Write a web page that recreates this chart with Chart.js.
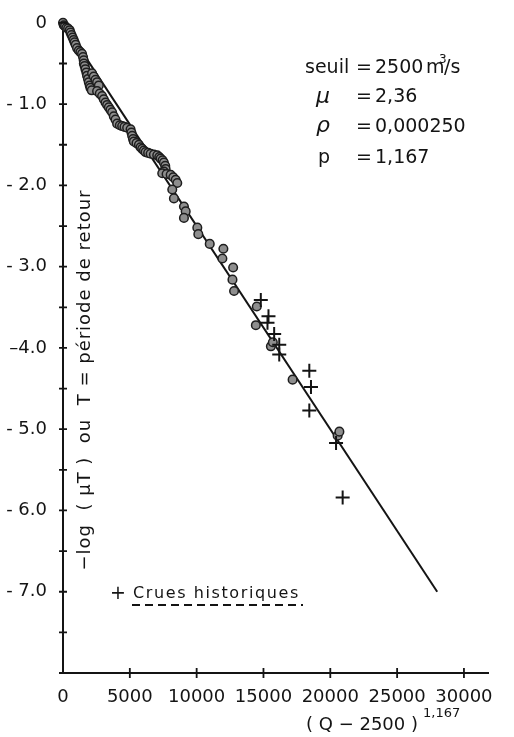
<!DOCTYPE html>
<html>
<head>
<meta charset="utf-8">
<script src="https://cdn.jsdelivr.net/npm/chart.js@4"></script>
<style>
  html, body { margin: 0; padding: 0; background: #fff; }
  #chart { display: block; }
</style>
</head>
<body>
<canvas id="chart" width="514" height="737"></canvas>
<script>
// axis ticks
const X_TICKS = [0, 5000, 10000, 15000, 20000, 25000, 30000];
const X_LABELS = ['0', '5000', '10000', '15000', '20000', '25000', '30000'];
const Y_TICKS = [0, -0.5, -1, -1.5, -2, -2.5, -3, -3.5, -4, -4.5, -5, -5.5, -6, -6.5, -7, -7.5, -8];
const Y_LABELS = ['0', '- 1.0', '- 2.0', '- 3.0', '–4.0', '- 5.0', '- 6.0', '- 7.0', ''];

// fitted law: -log(mu T) = -rho (Q - 2500)^p
const FIT_X = [0, 28000];
const FIT_Y = [0, -7.0];

// observed floods above the threshold (dense band at the top, scattered below)
const OBS_X = [0, 60, 150, 250, 380, 500, 560, 640, 720, 800, 870, 950, 1050, 1180, 1300, 1425,
  1500, 1550, 1560, 1620, 1680, 1750, 1800, 1870, 1930, 2000, 2055, 2150, 2175, 2300, 2430,
  2550, 2680, 2550, 2750, 2925, 3050, 3180, 3300, 3430, 3550, 3675, 3800, 3930, 4050, 4250,
  4425, 4600, 4800, 5055, 5120, 5175, 5240, 5300, 5500, 5680, 5800, 5925, 6050, 6180, 6370,
  6555, 6800, 7050, 7200, 7305, 7450, 7550, 7650, 7680, 7550, 7425, 7750, 8055, 8250, 8430, 8550,
  8175, 8300, 9050, 9180, 9050, 10050, 10125, 10980, 12000, 11925, 12730, 12680, 12800,
  14500, 14430, 15555, 15700, 17180, 20550, 20680];
const OBS_Y = [0, -0.03, -0.04, -0.06, -0.07, -0.09, -0.12, -0.15, -0.18, -0.21, -0.24, -0.27, -0.31, -0.34, -0.36, -0.38,
  -0.42, -0.46, -0.50, -0.53, -0.57, -0.61, -0.65, -0.69, -0.73, -0.77, -0.80, -0.83, -0.62, -0.66, -0.70,
  -0.73, -0.77, -0.84, -0.87, -0.90, -0.94, -0.98, -1.01, -1.04, -1.07, -1.10, -1.15, -1.19, -1.24, -1.26,
  -1.27, -1.28, -1.29, -1.31, -1.35, -1.39, -1.43, -1.46, -1.48, -1.50, -1.53, -1.55, -1.57, -1.59, -1.60,
  -1.61, -1.62, -1.63, -1.65, -1.67, -1.69, -1.72, -1.76, -1.80, -1.83, -1.85, -1.86, -1.87, -1.90, -1.93, -1.97,
  -2.05, -2.16, -2.26, -2.32, -2.40, -2.52, -2.60, -2.72, -2.78, -2.90, -3.01, -3.16, -3.30,
  -3.49, -3.72, -3.98, -3.93, -4.39, -5.08, -5.03];

// historical floods
const HIST_X = [14800, 15375, 15300, 15800, 16180, 16180, 18430, 18555, 18430, 20430, 20925];
const HIST_Y = [-3.41, -3.61, -3.69, -3.83, -3.96, -4.08, -4.28, -4.48, -4.77, -5.17, -5.84];

const INK = '#141414';
const FONT = '"DejaVu Sans", sans-serif';

function toPoints(xs, ys) {
  return xs.map((x, i) => ({ x: x, y: ys[i] }));
}

// tick marks crossing both axes
const crossTicks = {
  id: 'crossTicks',
  afterDraw(chart) {
    const ctx = chart.ctx;
    const xs = chart.scales.x, ys = chart.scales.y;
    const ax = xs.getPixelForValue(0);
    const ay = ys.getPixelForValue(-8);
    ctx.save();
    ctx.strokeStyle = INK;
    ctx.lineWidth = 1.8;
    ctx.beginPath();
    X_TICKS.forEach(v => {
      if (v === 0) return;
      const px = xs.getPixelForValue(v);
      ctx.moveTo(px, ay - 5);
      ctx.lineTo(px, ay + 5);
    });
    Y_TICKS.forEach(v => {
      if (v === -8) return;
      const py = ys.getPixelForValue(v);
      ctx.moveTo(ax - 4, py);
      ctx.lineTo(ax + 4, py);
    });
    // small overhang at the origin
    ctx.moveTo(ax - 4, ay);
    ctx.lineTo(ax, ay);
    ctx.stroke();
    ctx.restore();
  }
};

// titles and the parameter block
const annotations = {
  id: 'annotations',
  afterDraw(chart) {
    const ctx = chart.ctx;
    ctx.save();
    ctx.fillStyle = INK;
    ctx.textBaseline = 'alphabetic';
    ctx.textAlign = 'left';

    // parameters
    ctx.font = '19px ' + FONT;
    ctx.fillText('seuil', 305, 73);
    ctx.fillText('=', 356, 73);
    ctx.fillText('2500', 375, 73);
    ctx.fillText('m', 426, 73);
    ctx.font = '12px ' + FONT;
    ctx.fillText('3', 439, 63);
    ctx.font = '19px ' + FONT;
    ctx.fillText('/s', 444, 73);

    ctx.font = 'italic 22px ' + FONT;
    ctx.fillText('\u03BC', 316, 103);
    ctx.fillText('\u03C1', 316, 132);
    ctx.font = '19px ' + FONT;
    ctx.fillText('=', 356, 102);
    ctx.fillText('2,36', 375, 102);
    ctx.fillText('=', 356, 132);
    ctx.fillText('0,000250', 375, 132);
    ctx.fillText('p', 318, 163);
    ctx.fillText('=', 356, 163);
    ctx.fillText('1,167', 375, 163);

    // legend for historical floods
    ctx.font = '19px ' + FONT;
    ctx.fillText('+', 110, 599);
    ctx.font = '16px ' + FONT;
    ctx.letterSpacing = '1.6px';
    ctx.fillText('Crues historiques', 133, 598);
    ctx.letterSpacing = '0px';
    ctx.strokeStyle = INK;
    ctx.lineWidth = 2;
    ctx.setLineDash([8, 5]);
    ctx.beginPath();
    ctx.moveTo(132, 605);
    ctx.lineTo(303, 605);
    ctx.stroke();
    ctx.setLineDash([]);

    // x axis title
    ctx.font = '18px ' + FONT;
    ctx.fillText('( Q \u2212 2500 )', 306, 730);
    ctx.font = '13px ' + FONT;
    ctx.fillText('1,167', 423, 717);

    // y axis title, written upwards
    ctx.translate(90, 380);
    ctx.rotate(-Math.PI / 2);
    ctx.textAlign = 'center';
    ctx.font = '18px ' + FONT;
    ctx.letterSpacing = '1px';
    ctx.fillText('\u2212log  ( \u03BCT )  ou  T = p\u00E9riode de retour', 0, 0);
    ctx.restore();
  }
};

const chart = new Chart(document.getElementById('chart'), {
  type: 'scatter',
  data: {
    datasets: [
      {
        type: 'line',
        label: 'Loi ajustée',
        data: toPoints(FIT_X, FIT_Y),
        borderColor: INK,
        borderWidth: 2,
        pointRadius: 0,
        fill: false,
        order: 3,
        clip: false
      },
      {
        label: 'Crues observées',
        data: toPoints(OBS_X, OBS_Y),
        pointStyle: 'circle',
        pointRadius: 4.3,
        backgroundColor: '#8e8e8e',
        borderColor: '#1e1e1e',
        borderWidth: 1.5,
        order: 2,
        clip: false
      },
      {
        label: 'Crues historiques',
        data: toPoints(HIST_X, HIST_Y),
        pointStyle: 'cross',
        pointRadius: 7,
        borderColor: INK,
        borderWidth: 2,
        order: 1,
        clip: false
      }
    ]
  },
  options: {
    responsive: false,
    animation: false,
    devicePixelRatio: 1,
    layout: { padding: { top: 10, right: 26, left: 0, bottom: 0 } },
    plugins: {
      legend: { display: false },
      tooltip: { enabled: false }
    },
    scales: {
      x: {
        type: 'linear',
        position: 'bottom',
        min: 0,
        max: 31800,
        afterBuildTicks: scale => { scale.ticks = X_TICKS.map(v => ({ value: v })); },
        afterFit: scale => { scale.height = 64; },
        grid: { display: false },
        border: { display: true, color: INK, width: 2 },
        ticks: {
          autoSkip: false,
          maxRotation: 0,
          padding: 6,
          color: INK,
          font: { family: 'DejaVu Sans', size: 18 },
          callback: v => X_LABELS[X_TICKS.indexOf(v)]
        }
      },
      y: {
        type: 'linear',
        min: -8,
        max: 0.05,
        afterBuildTicks: scale => { scale.ticks = Y_TICKS.map(v => ({ value: v })); },
        afterFit: scale => { scale.width = 63; },
        grid: { display: false },
        border: { display: true, color: INK, width: 2 },
        ticks: {
          autoSkip: false,
          padding: 8,
          color: INK,
          font: { family: 'DejaVu Sans', size: 18 },
          callback: v => Number.isInteger(v) ? Y_LABELS[-v] : ''
        }
      }
    }
  },
  plugins: [crossTicks, annotations]
});
</script>
</body>
</html>
